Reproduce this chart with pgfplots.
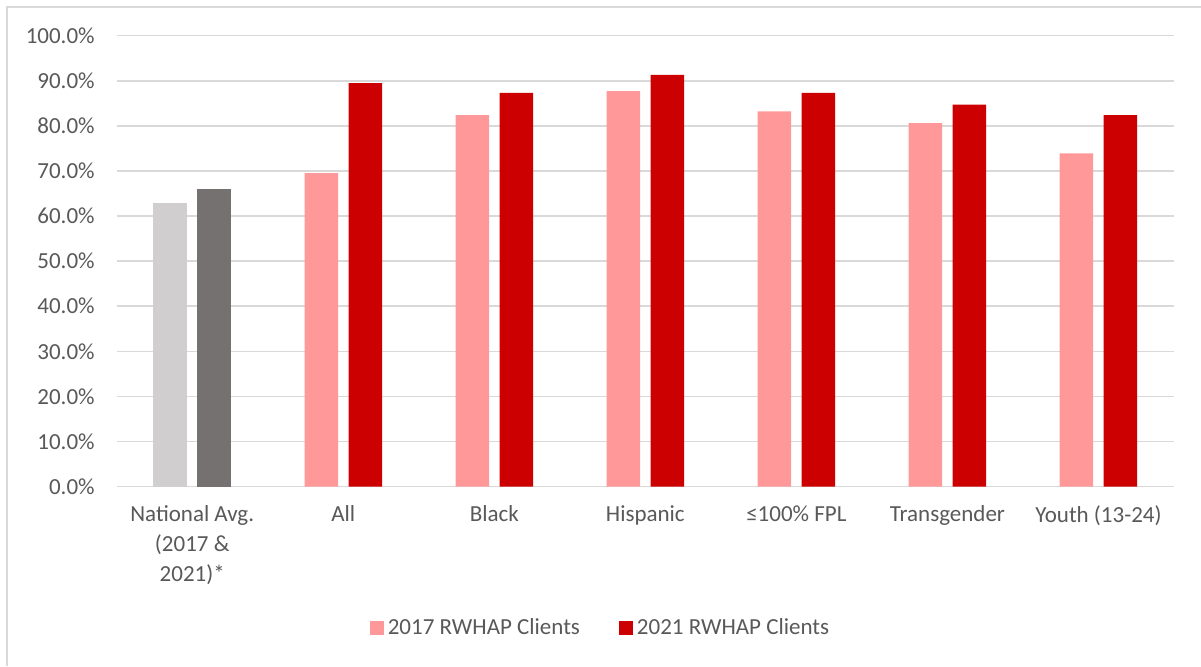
\documentclass[border=0pt]{standalone}
\usepackage{fontspec}
\setmainfont{Carlito}
\usepackage{pgfplots}
\pgfplotsset{compat=1.18}
\definecolor{txt}{HTML}{595959}
\definecolor{gridc}{HTML}{D9D9D9}
\definecolor{natA}{HTML}{D0CECE}
\definecolor{natB}{HTML}{767171}
\definecolor{pink}{HTML}{FF9999}
\definecolor{dred}{HTML}{CC0000}
\begin{document}
\begin{tikzpicture}
\useasboundingbox (0,0) rectangle (600.5pt,333pt);
\fill[white] (0,0) rectangle (600.5pt,333pt);
\draw[gridc, line width=0.8pt] (3.35pt,0) -- (3.35pt,329.35pt) -- (600.5pt,329.35pt);
\begin{axis}[
  at={(58.35pt,89.75pt)}, anchor=south west,
  scale only axis, width=528.65pt, height=225.4pt,
  xmin=-0.5, xmax=6.5, ymin=0, ymax=100,
  ybar, bar width=16.75pt,
  axis line style={draw=none},
  major tick length=0pt,
  ytick={0,10,...,100},
  yticklabels={0.0\%,10.0\%,20.0\%,30.0\%,40.0\%,50.0\%,60.0\%,70.0\%,80.0\%,90.0\%,100.0\%},
  ymajorgrids, grid style={gridc, line width=0.75pt},
  xtick={0,1,2,3,4,5,6},
  xticklabels={{National Avg.\\(2017 \&\\2021)*},All,Black,Hispanic,≤100\% FPL,Transgender,Youth (13-24)},
  xticklabel style={align=center, font=\fontsize{11.5pt}{15pt}\selectfont, text=txt, yshift=-6pt},
  yticklabel style={font=\fontsize{11.5pt}{14pt}\selectfont, text=txt, xshift=-7.5pt},
  legend columns=2,
  legend style={draw=none, fill=none, at={(0.4585,-0.314)}, anchor=center,
    font=\fontsize{11.5pt}{14pt}\selectfont, text=txt,
    /tikz/every even column/.append style={column sep=17.5pt}},
  legend image code/.code={\fill[#1] (0pt,-3.5pt) rectangle (7pt,3.5pt);},
  every axis plot/.append style={draw=none},
]
\addplot[fill=pink, bar shift=-11pt] coordinates {(1,69.5) (2,82.4) (3,87.7) (4,83.2) (5,80.6) (6,73.9)};
\addlegendentry{2017 RWHAP Clients}
\addplot[fill=dred, bar shift=11pt] coordinates {(1,89.5) (2,87.3) (3,91.3) (4,87.3) (5,84.7) (6,82.4)};
\addlegendentry{2021 RWHAP Clients}
\addplot[fill=natA, bar shift=-11pt, forget plot] coordinates {(0,62.8)};
\addplot[fill=natB, bar shift=11pt, forget plot] coordinates {(0,65.9)};
\end{axis}
\end{tikzpicture}
\end{document}
